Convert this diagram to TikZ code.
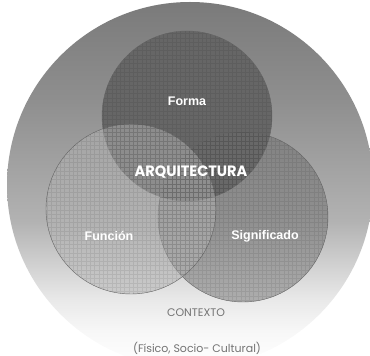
\documentclass[tikz,border=0pt]{standalone}
\usepackage{fontspec}
\setmainfont{Liberation Sans}
\newfontfamily\geo{Poppins}
\pgfdeclareverticalshading{ctxshade}{100bp}{color(0bp)=(white); color(25bp)=(white); color(30bp)=(black!3); color(34.5bp)=(black!9); color(45bp)=(black!30); color(61.5bp)=(black!44); color(75bp)=(black!52); color(100bp)=(black!52)}
\begin{document}
\begin{tikzpicture}[x=1pt,y=1pt,
  venn/.style={circle, minimum size=170pt, inner sep=0pt},
  vline/.style={draw=black!60, line width=0.4pt},
  gridl/.style={draw=black, opacity=0.08, line width=0.45pt},
  lbl/.style={text=white, font=\bfseries\fontsize{12.5}{14}\selectfont},
  ctx/.style={text=black!55, font=\geo\fontsize{11}{13}\selectfont}]
\useasboundingbox (0,0) rectangle (370,356);
\begin{scope}
  \clip (0,0) rectangle (370,356);
  \shade[shading=ctxshade] (190,171) circle (183);
\end{scope}
% circles
\node[venn, fill=black!60, vline] (forma) at (187,240) {};
\node[venn, fill=black!58, fill opacity=0.48, vline] (signif) at (243,139) {};
\node[venn, fill=black!30, fill opacity=0.52, vline] (funcion) at (131,147) {};
% grids
\foreach \c in {forma, signif, funcion}{
  \begin{scope}
    \clip (\c.center) circle (85);
    \draw[gridl, step=4.3] ([shift={(-90,-90)}]\c.center) grid ([shift={(90,90)}]\c.center);
  \end{scope}
}
% labels
\node[lbl] (tforma) at (187,254.5) {Forma};
\node[lbl] (tfuncion) at (109,120) {Función};
\node[lbl] (tsignif) at (265,120) {Significado};
\node[text=white, font=\geo\bfseries\fontsize{15}{17}\selectfont, xscale=0.97] (tarq) at (191,184) {ARQUITECTURA};
\node[ctx] (tctx) at (196,43) {CONTEXTO};
\node[ctx] (tfis) at (197,8) {(Físico, Socio- Cultural)};
\end{tikzpicture}
\end{document}
